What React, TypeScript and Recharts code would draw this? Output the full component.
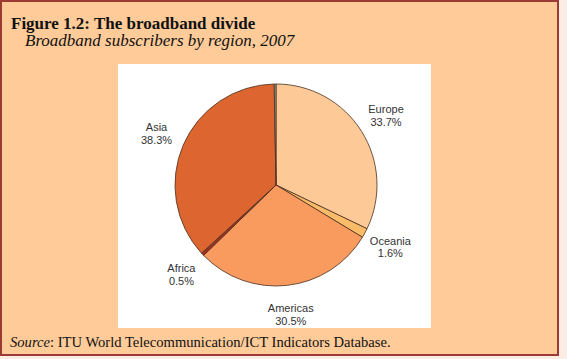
import React from "react";
import { PieChart, Pie, Cell } from "recharts";

const regions = ["Europe", "Oceania", "Americas", "Africa", "Asia", "Other"];
const shares = [33.7, 1.6, 30.5, 0.5, 38.3, 0.3];
const sliceColors = ["#FDCA97", "#FABC68", "#F99A5F", "#A0301F", "#DD6630", "#A0A0A0"];

const data = regions.map((name, i) => ({ name, value: shares[i] }));

const RAD = Math.PI / 180;

const renderLabel = (props: any) => {
  const { cx, cy, midAngle, outerRadius, index } = props;
  const name = regions[index];
  if (name === "Other") return null;
  const r = outerRadius + 29;
  const x = cx + r * Math.cos(-midAngle * RAD);
  const y = cy + r * Math.sin(-midAngle * RAD);
  return (
    <text
      x={x}
      y={y}
      textAnchor="middle"
      fontSize={11}
      fontFamily="'Liberation Sans', Arial, sans-serif"
      fill="#333333"
    >
      <tspan x={x} y={y - 2.3}>{name}</tspan>
      <tspan x={x} y={y + 10.4}>{`${shares[index]}%`}</tspan>
    </text>
  );
};

export default function App() {
  return (
    <div
      style={{
        position: "absolute",
        left: 0,
        top: 0,
        width: 567,
        height: 359,
        background: "#FBEDE4",
        overflow: "hidden",
      }}
    >
      <div
        style={{
          position: "absolute",
          left: 0,
          top: 0,
          width: 559,
          height: 356,
          boxSizing: "border-box",
          border: "2px solid #9C3A33",
          background: "#FECB99",
        }}
      />
      <svg
        width={567}
        height={359}
        style={{ position: "absolute", left: 0, top: 0 }}
      >
        <text
          x={11}
          y={28.5}
          fontFamily="'Liberation Serif', 'Times New Roman', serif"
          fontSize={17}
          fontWeight="bold"
          fill="#111"
        >
          Figure 1.2: The broadband divide
        </text>
        <text
          x={25}
          y={45.5}
          fontFamily="'Liberation Serif', 'Times New Roman', serif"
          fontSize={17}
          fontStyle="italic"
          fill="#111"
        >
          Broadband subscribers by region, 2007
        </text>
        <text
          x={10}
          y={347}
          fontFamily="'Liberation Serif', 'Times New Roman', serif"
          fontSize={14.6}
          fill="#111"
        >
          <tspan fontStyle="italic">Source</tspan>
          <tspan>: ITU World Telecommunication/ICT Indicators Database.</tspan>
        </text>
      </svg>
      <div
        style={{
          position: "absolute",
          left: 118,
          top: 64,
          width: 313,
          height: 264,
          background: "#FFFFFF",
        }}
      >
        <PieChart width={313} height={264}>
          <Pie
            data={data}
            dataKey="value"
            nameKey="name"
            cx={153}
            cy={116}
            outerRadius={101}
            startAngle={90}
            endAngle={-270}
            stroke="#4A3020"
            strokeWidth={0.8}
            labelLine={false}
            label={renderLabel}
            isAnimationActive={false}
          >
            {data.map((d, i) => (
              <Cell key={d.name} fill={sliceColors[i]} />
            ))}
          </Pie>
        </PieChart>
      </div>
    </div>
  );
}
